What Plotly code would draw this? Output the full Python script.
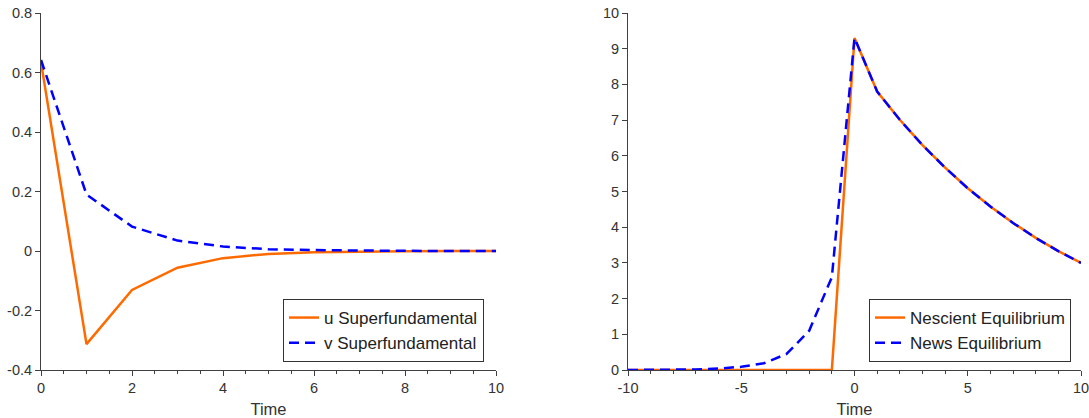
import plotly.graph_objects as go

# ---------------- data ----------------
t_left = [0, 1, 2, 3, 4, 5, 6, 7, 8, 9, 10]
u_super = [0.635, -0.313, -0.131, -0.056, -0.024, -0.010, -0.0045, -0.002, -0.001, -0.0004, -0.0002]
v_super = [0.642, 0.190, 0.082, 0.035, 0.015, 0.006, 0.003, 0.0012, 0.0005, 0.0002, 0.0001]

t_right = [-10, -9, -8, -7, -6, -5, -4, -3, -2, -1, 0, 1, 2, 3, 4, 5, 6, 7, 8, 9, 10]
nescient = [0, 0, 0, 0, 0, 0, 0, 0, 0, 0, 9.3, 7.8, 7.01, 6.30, 5.67, 5.09, 4.58, 4.12, 3.70, 3.33, 3.0]
news = [0.001, 0.003, 0.006, 0.015, 0.04, 0.09, 0.19, 0.45, 1.1, 2.6, 9.3, 7.8, 7.01, 6.30, 5.67, 5.09, 4.58, 4.12, 3.70, 3.33, 3.0]

left_yticks = [-0.4, -0.2, 0, 0.2, 0.4, 0.6, 0.8]
left_yticktext = ["-0.4", "-0.2", "0", "0.2", "0.4", "0.6", "0.8"]
left_xticks = [0, 2, 4, 6, 8, 10]
left_xticktext = ["0", "2", "4", "6", "8", "10"]
right_yticks = [0, 1, 2, 3, 4, 5, 6, 7, 8, 9, 10]
right_yticktext = [str(v) for v in right_yticks]
right_xticks = [-10, -5, 0, 5, 10]
right_xticktext = ["-10", "-5", "0", "5", "10"]

ORANGE = "#FF6A00"
BLUE = "#0000FF"
AX = "#404040"
FONT = "Liberation Sans, Arial, sans-serif"
W, H = 1089, 418

fig = go.Figure()
fig.add_trace(go.Scatter(x=t_left, y=u_super, mode="lines", name="u Superfundamental",
                         line=dict(color=ORANGE, width=2.5), xaxis="x", yaxis="y", legend="legend"))
fig.add_trace(go.Scatter(x=t_left, y=v_super, mode="lines", name="v Superfundamental",
                         line=dict(color=BLUE, width=2.5, dash="10px,6px"), xaxis="x", yaxis="y", legend="legend"))
fig.add_trace(go.Scatter(x=t_right, y=nescient, mode="lines", name="Nescient Equilibrium",
                         line=dict(color=ORANGE, width=2.5), xaxis="x2", yaxis="y2", legend="legend2"))
fig.add_trace(go.Scatter(x=t_right, y=news, mode="lines", name="News Equilibrium",
                         line=dict(color=BLUE, width=2.5, dash="10px,6px"), xaxis="x2", yaxis="y2", legend="legend2"))

axis_common = dict(showline=True, linecolor=AX, linewidth=1, ticks="outside", ticklen=5,
                   tickcolor=AX, tickwidth=1, showgrid=False, zeroline=False,
                   ticklabeloverflow="allow",
                   tickfont=dict(family=FONT, size=14.5, color="#333333"))

x_title = dict(text="Time", font=dict(family=FONT, size=16.5, color="#333333"), standoff=9)

legend_common = dict(yanchor="bottom", xanchor="right", bordercolor="#333333", borderwidth=1,
                     bgcolor="white", font=dict(family=FONT, size=17, color="#222222"),
                     tracegroupgap=0, itemwidth=30)

fig.update_layout(
    width=W, height=H,
    margin=dict(l=0, r=0, t=13, b=48, autoexpand=False),
    plot_bgcolor="white", paper_bgcolor="white",
    xaxis=dict(domain=[41 / W, 496 / W], range=[0, 10], tickvals=left_xticks, ticktext=left_xticktext,
               minor=dict(dtick=0.5, ticks="outside", ticklen=3, tickcolor=AX),
               title=x_title, anchor="y", **axis_common),
    yaxis=dict(range=[-0.4, 0.8], tickvals=left_yticks, ticktext=left_yticktext, anchor="x", **axis_common),
    xaxis2=dict(domain=[628 / W, 1081 / W], range=[-10, 10], tickvals=right_xticks, ticktext=right_xticktext,
                minor=dict(dtick=1, ticks="outside", ticklen=3, tickcolor=AX),
                title=x_title, anchor="y2", **axis_common),
    yaxis2=dict(range=[0, 10], tickvals=right_yticks, ticktext=right_yticktext, anchor="x2", **axis_common),
    legend=dict(x=484 / W, y=(370 - 362) / 357, **legend_common),
    legend2=dict(x=1071 / W, y=(370 - 362) / 357, **legend_common),
    showlegend=True,
)

fig.write_html("out.html")
